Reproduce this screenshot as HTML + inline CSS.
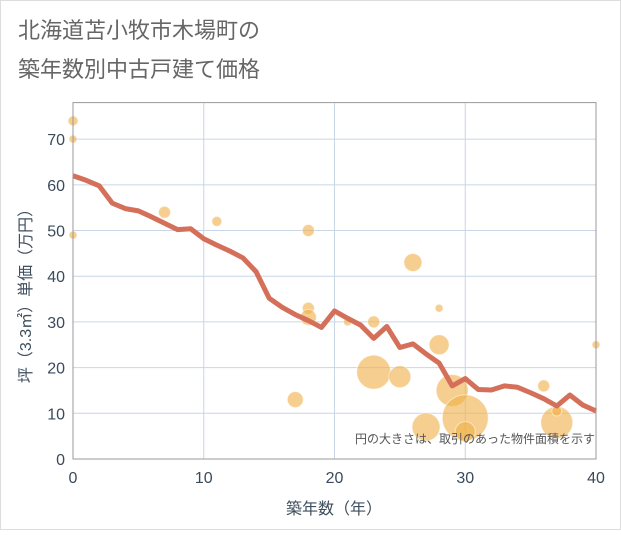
<!DOCTYPE html>
<html><head><meta charset="utf-8"><style>
body{margin:0;background:#fff;font-family:"Liberation Sans","Noto Sans CJK JP",sans-serif}
</style></head><body>
<svg width="621" height="530" xmlns="http://www.w3.org/2000/svg" style="font-family:'Liberation Sans','Noto Sans CJK JP',sans-serif">
<rect x="0.5" y="0.5" width="620" height="529" fill="#fff" stroke="#ddd"/>
<text x="18" y="38" font-size="22" fill="#666">北海道苫小牧市木場町の</text>
<text x="18" y="77" font-size="22" fill="#666">築年数別中古戸建て価格</text>
<g id="grid"></g>
<g id="pts"></g>
<g id="line"></g>
<g id="axes"></g>
<text x="595" y="443" font-size="12" fill="#555" text-anchor="end">円の大きさは、取引のあった物件面積を示す</text>
<text x="334" y="514" font-size="16" fill="#3f4f5f" text-anchor="middle">築年数（年）</text>
<text transform="translate(31,292) rotate(-90)" font-size="16" fill="#3f4f5f" text-anchor="middle">坪（3.3㎡）単価（万円）</text>
</svg>
<script>
const xTicks=[0,10,20,30,40];
const yTicks=[0,10,20,30,40,50,60,70];
const lineYears=[0,1,2,3,4,5,6,7,8,9,10,11,12,13,14,15,16,17,18,19,20,21,22,23,24,25,26,27,28,29,30,31,32,33,34,35,36,37,38,39,40];
const linePrices=[62,61,59.8,56,54.8,54.3,53,51.6,50.2,50.4,48.2,46.8,45.5,44,41,35.2,33.2,31.6,30.3,28.8,32.4,30.8,29.3,26.4,29,24.4,25.2,23,21,16,17.6,15.2,15.1,16,15.7,14.5,13.2,11.6,14,11.8,10.5];
const ptAges=[0,0,0,7,11,18,17,18,18,21,23,23,25,26,28,28,27,29,30,30,36,37,37,40];
const ptPrices=[74,70,49,54,52,50,13,33,31,30,30,19,18,43,33,25,7,15,9,6,16,8,10.5,25];
const ptSizes=[5,4,4,6,5,6,8,6,8,4,6,17,11,9,4,10,14,16,23,10,6,16,5,4];
const X0=73,X1=596,Y0=459,Y1=102.6,XMAX=40,YMAX=78;
const sx=v=>X0+(X1-X0)*v/XMAX, sy=v=>Y0-(Y0-Y1)*v/YMAX;
const NS="http://www.w3.org/2000/svg";
function mk(p,t,a){const e=document.createElementNS(NS,t);for(const k in a)e.setAttribute(k,a[k]);p.appendChild(e);return e;}
const g=document.getElementById('grid'),ax=document.getElementById('axes');
mk(g,'rect',{x:X0,y:Y1,width:X1-X0,height:Y0-Y1,fill:'#fff'});
yTicks.forEach(v=>{const l=mk(g,'line',{x1:X0,x2:X1,y1:sy(v),y2:sy(v),stroke:'#c8d6e6','stroke-width':1});


const t=mk(ax,'text',{x:X0-8,y:sy(v)+6,'font-size':16,fill:'#3a4a5a','text-anchor':'end'});t.textContent=v;

});
xTicks.forEach(v=>{const l=mk(g,'line',{x1:sx(v),x2:sx(v),y1:Y1,y2:Y0,stroke:'#c8d6e6','stroke-width':1});


const t=mk(ax,'text',{x:sx(v),y:Y0+24,'font-size':16,fill:'#3a4a5a','text-anchor':'middle'});t.textContent=v;

});
mk(ax,'rect',{x:X0,y:Y1,width:X1-X0,height:Y0-Y1,fill:'none',stroke:'#999','stroke-width':1});
const pg=document.getElementById('pts');
ptAges.forEach((a,i)=>{const c=mk(pg,'circle',{cx:sx(a),cy:sy(ptPrices[i]),r:ptSizes[i],fill:'rgba(240,175,70,0.6)',stroke:'rgba(255,255,255,0.5)'});

});
const pl=mk(document.getElementById('line'),'polyline',{points:lineYears.map((y,i)=>sx(y)+','+sy(linePrices[i])).join(' '),fill:'none',stroke:'#d4705a','stroke-width':5,'stroke-linejoin':'round'});


</script>
</body></html>
